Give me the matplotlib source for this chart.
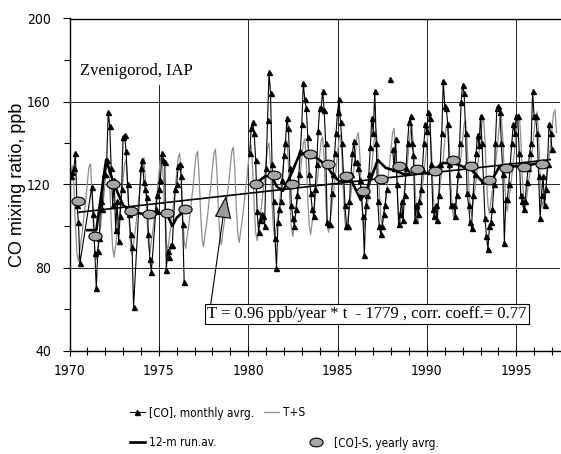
import numpy as np
import matplotlib
matplotlib.use("Agg")
import matplotlib.pyplot as plt
from matplotlib import font_manager as fm
from matplotlib.lines import Line2D
from matplotlib.path import Path
from matplotlib.patches import Rectangle
from matplotlib.transforms import Affine2D

nan = np.nan

# [CO] monthly averages, ppb (12 consecutive months per row, nan = no data)
co_70s_start = 1970.0
co_70s = [
    [nan, 124, 126, 128, 135, 110, 102, 82, nan, nan, nan, nan],
    [nan, nan, nan, 119, 106, 87, 70, 88, 94, 112, 108, 125],
    [125, 132, 155, 148, 128, 110, 122, 98, 112, 93, 105, 118],
    [143, 144, 136, 120, 106, 96, 90, 61, nan, nan, nan, nan],
    [128, 132, 121, 118, 114, 96, 84, 78, nan, nan, 108, 115],
    [118, 122, 135, 132, 131, 79, 88, 85, 91, 91, nan, 118],
    [120, 129, 130, 124, 101, 73],
]

co_80s_start = 1980 + 1 / 12
co_80s = [
    [135, 147, 150, 145, 132, 107, 97, 103, 106, 105, 100, 128],
    [151, 174, 164, 130, 112, 94, 80, 102, 108, 112, 122, 134],
    [140, 152, 147, 128, 110, 104, 100, 108, 115, 125, 136, 149],
    [169, 161, 157, 143, 125, 116, 108, 105, 118, 130, 146, 157],
    [157, 165, 156, 140, 102, 101, 101, 116, 125, 135, 145, 155],
    [161, 150, 140, 125, 110, 100, 100, 112, 125, 135, 141, 131],
    [131, 128, 122, 116, 105, 86, 110, 115, 125, 138, 152, 145],
    [165, 140, 112, 100, 96, 100, 106, 110, 118, nan, 171, nan],
    [137, 128, 142, 120, 101, 106, 112, 103, 115, 128, 140, 150],
    [153, 140, 134, 103, 110, 106, 112, 118, 128, 140, 149, 146],
    [155, 152, 130, 108, 105, 110, 103, 115, 130, 145, 170, 158],
    [157, 149, 130, 110, 110, 110, 105, 115, 125, 140, 160, 168],
    [164, 145, 116, 110, 102, 99, 115, 125, 135, 144, 139, 153],
    [140, 122, 104, 95, 89, 100, 102, 108, 120, 140, 157, 158],
    [155, 140, 125, 92, 113, 113, 120, 130, 140, 149, 145, 153],
    [153, 135, 115, 112, 108, 112, 121, 128, 135, 140, 165, 153],
    [153, 145, 124, 104, 115, 124, 110, 118, 130, 149, 145, 137],
]

# T+S (trend + seasonal) fit, monthly from Jan 1970
ts_start = 1970.0
ts_rows = [
    [120, 127, 129, 118, 100, 87, 83, 89, 94, 100, 107, 113],
    [121, 128, 130, 119, 101, 88, 84, 90, 95, 101, 108, 114],
    [122, 129, 131, 120, 102, 89, 85, 91, 96, 102, 109, 115],
    [123, 130, 132, 121, 103, 90, 86, 92, 97, 103, 110, 116],
    [124, 131, 133, 122, 104, 91, 87, 93, 98, 104, 111, 117],
    [125, 132, 134, 123, 105, 92, 88, 94, 99, 105, 112, 118],
    [126, 133, 135, 124, 106, 93, 89, 95, 100, 106, 113, 119],
    [127, 134, 136, 125, 107, 94, 90, 96, 101, 107, 114, 120],
    [128, 135, 137, 126, 108, 95, 91, 97, 102, 108, 115, 121],
    [129, 136, 138, 127, 109, 96, 92, 98, 103, 109, 116, 122],
    [130, 137, 139, 128, 110, 97, 93, 99, 104, 110, 117, 123],
    [131, 138, 140, 129, 111, 98, 94, 100, 105, 111, 118, 124],
    [132, 139, 141, 130, 112, 99, 95, 101, 106, 112, 119, 125],
    [133, 140, 142, 131, 113, 100, 96, 102, 107, 113, 120, 126],
    [134, 141, 143, 132, 114, 101, 97, 103, 108, 114, 121, 127],
    [135, 142, 144, 133, 115, 102, 98, 104, 109, 115, 122, 128],
    [136, 143, 145, 134, 116, 103, 99, 105, 110, 116, 123, 129],
    [137, 144, 146, 135, 117, 104, 100, 106, 111, 117, 124, 130],
    [138, 145, 147, 136, 118, 105, 101, 107, 112, 118, 125, 131],
    [139, 146, 148, 137, 119, 106, 102, 108, 113, 119, 126, 132],
    [140, 147, 149, 138, 120, 107, 103, 109, 114, 120, 127, 133],
    [141, 148, 150, 139, 121, 108, 104, 110, 115, 121, 128, 134],
    [142, 149, 151, 140, 122, 109, 105, 111, 116, 122, 129, 135],
    [143, 150, 152, 141, 123, 110, 106, 112, 117, 123, 130, 136],
    [144, 151, 153, 142, 124, 111, 107, 113, 118, 124, 131, 137],
    [145, 152, 154, 143, 125, 112, 108, 114, 119, 125, 132, 138],
    [146, 153, 155, 144, 126, 113, 109, 115, 120, 126, 133, 139],
    [147, 154, 156, 145],
]

# 12-month running average (nan splits the two measuring periods)
runav_t = [1971.0, 1971.5, 1972.05, 1972.45, 1973.0, 1973.45, 1974.0, 1974.45,
           1975.0, 1975.45, 1975.75, 1976.0, 1976.5, nan,
           1980.5, 1980.95, 1981.3, 1981.6, 1981.95, 1982.35, 1982.85, 1983.35,
           1983.95, 1984.4, 1984.7, 1985.1, 1985.8, 1986.3, 1986.7, 1987.25,
           1987.7, 1988.1, 1988.85, 1989.45, 1990.1, 1990.9, 1991.6, 1992.5,
           1993.1, 1993.6, 1994.05, 1994.95, 1995.85, 1996.6]
runav_v = [98, 98, 132, 121, 110, 107, 106, 105,
           106, 106, 100, 104, 108, nan,
           121, 124, 124, 119, 117, 124, 134, 136,
           132, 129, 125, 121.5, 121.5, 112.5, 119, 131.8,
           128, 127, 124.6, 127, 125, 130.4, 130, 127,
           121.4, 121.4, 128.6, 128.8, 129.6, 131]

# linear trend
trend_t = [1970.5, 1996.9]
trend_v = [106.6, 132.0]

# [CO]-S yearly averages
year_avg_years = [1970, 1971, 1972, 1973, 1974, 1975, 1976,
                  1980, 1981, 1982, 1983, 1984, 1985, 1986, 1987, 1988,
                  1989, 1990, 1991, 1992, 1993, 1994, 1995, 1996]
year_avg_vals = [112, 95, 120, 107, 106, 106.5, 108,
                 120, 124.5, 120, 134.5, 130, 124, 117, 122.5, 129,
                 127.5, 126.5, 132, 129, 122, 128, 128.5, 130]

station = "Zvenigorod, IAP"
eq_text = "T = 0.96 ppb/year * t  - 1779 , corr. coeff.= 0.77"
legend_labels = ["[CO], monthly avrg.", "T+S", "12-m run.av.", "[CO]-S, yearly avrg."]


def monthly(rows, start, join_gaps=True):
    vals = np.concatenate([np.asarray(r, dtype=float) for r in rows])
    t = start + np.arange(vals.size) / 12
    if not join_gaps:
        return t, vals
    ok = ~np.isnan(vals)
    return t[ok], vals[ok]


def narrow_sans():
    """Look for an installed narrow/condensed regular sans font file."""
    found = []
    for f in fm.fontManager.ttflist:
        name = f.name.lower()
        if "mono" in name or "cjk" in name or ("serif" in name and "sans" not in name):
            continue
        if f.style != "normal" or str(f.weight) not in ("400", "normal", "regular", "book"):
            continue
        if "narrow" in name or "condensed" in name or f.stretch in ("condensed", "semi-condensed"):
            rank = 0 if "liberation" in name or "arimo" in name else 1
            found.append((rank, f.fname))
    return sorted(found)[0][1] if found else None


SANS = ["Liberation Sans", "DejaVu Sans"]
SERIF = ["Liberation Serif", "DejaVu Serif"]
plt.rcParams["font.family"] = SANS

narrow_file = narrow_sans()
if narrow_file:
    tick_fp = fm.FontProperties(fname=narrow_file, size=10)
    leg_fp = fm.FontProperties(fname=narrow_file, size=8.5)
else:
    tick_fp = fm.FontProperties(family=SANS, size=9.5)
    leg_fp = fm.FontProperties(family=SANS, size=7.5)

ellipse = Path.unit_circle().transformed(Affine2D().scale(1.0, 0.66))
ell_style = dict(marker=ellipse, ms=9.5, mfc="#a6a6a6", mec="black", mew=0.8, ls="none")
month_style = dict(color="black", lw=0.8, marker="^", ms=3.6)
ts_style = dict(color="#8e8e8e", lw=0.9)
run_style = dict(color="black", lw=1.9)

fig = plt.figure(figsize=(5.61, 4.54), dpi=100)
ax = fig.add_axes([69.5 / 561, 1 - 350.5 / 454, 490.5 / 561, 332 / 454])

t70, v70 = monthly(co_70s, co_70s_start)
t80, v80 = monthly(co_80s, co_80s_start, join_gaps=False)
tts, vts = monthly(ts_rows, ts_start)

ax.plot(tts, vts, zorder=2, **ts_style)
ax.plot(t70, v70, zorder=3, **month_style)
ax.plot(t80, v80, zorder=3, **month_style)
ax.plot(runav_t, runav_v, zorder=4, **run_style)
ax.plot(trend_t, trend_v, color="black", lw=1.2, zorder=4)
ax.plot(np.array(year_avg_years) + 0.45, year_avg_vals, zorder=5, **ell_style)

ax.set_xlim(1970, 1970 + 490.5 / 17.87)
ax.set_ylim(40, 200)
ax.set_xticks(np.arange(1970, 1996, 5))
ax.set_xticks(np.arange(1970, 1998, 1), minor=True)
ax.set_yticks(np.arange(40, 201, 40))
ax.set_yticks(np.arange(60, 200, 40), minor=True)
ax.tick_params(axis="x", which="major", direction="inout", length=7, width=0.8, pad=6)
ax.tick_params(axis="x", which="minor", direction="inout", length=6, width=0.8)
ax.tick_params(axis="y", which="major", direction="out", length=5, width=0.8, pad=8.5)
ax.tick_params(axis="y", which="minor", direction="out", length=4, width=0.8)
for lab in ax.get_xticklabels() + ax.get_yticklabels():
    lab.set_fontproperties(tick_fp)
ax.grid(True, which="major", color="#222222", lw=0.7)
ax.set_axisbelow(True)
for side in ["left", "bottom", "top"]:
    ax.spines[side].set_linewidth(1.0)
ax.spines["right"].set_visible(False)

ax.set_ylabel("CO mixing ratio, ppb", fontsize=13)
ax.yaxis.set_label_coords(-0.0885, 0.5)

# white patch behind the station name (hides the 1975 grid line there)
ax.add_patch(Rectangle((0.017, 0.80), 0.25, 0.2, transform=ax.transAxes,
                       fc="white", ec="none", zorder=0.8))
ax.text(1970.59, 172.8, station, family=SERIF, fontsize=12, va="baseline", zorder=6)

tip_t = 1978.76
tip_v = np.interp(tip_t, trend_t, trend_v)
ax.annotate(eq_text, xy=(tip_t, tip_v), xytext=(1986.65, 57.6), textcoords="data",
            ha="center", va="center", family=SERIF, fontsize=12, zorder=6,
            bbox=dict(boxstyle="square,pad=0.12", fc="white", ec="black", lw=0.8),
            arrowprops=dict(arrowstyle="-|>,head_length=1.2,head_width=0.45",
                            mutation_scale=12, fc="#9a9a9a", ec="black", lw=0.8,
                            relpos=(0.01, 1.0), shrinkA=0, shrinkB=0))

# legend: two rows below the axes, one entry per legend so each sits where it should
handles = [Line2D([], [], **month_style), Line2D([], [], **ts_style),
           Line2D([], [], **run_style), Line2D([], [], **ell_style)]
anchors = [(130, 413, 0.35), (242, 413, 0.35), (130, 443, 0.35), (309, 443, 0.9)]
prev_end = 0
for i, (h, lab, (px, py, tp)) in enumerate(zip(handles, legend_labels, anchors)):
    if i % 2 == 1:
        px = max(px, prev_end + 10)
    leg = fig.legend([h], [lab], loc="center left", bbox_to_anchor=(px / 561, 1 - py / 454),
                     frameon=False, borderpad=0, borderaxespad=0, handlelength=1.25,
                     handletextpad=tp, prop=leg_fp)
    fig.canvas.draw()
    prev_end = leg.get_texts()[0].get_window_extent().x1

fig.savefig("out.png", dpi=100)
